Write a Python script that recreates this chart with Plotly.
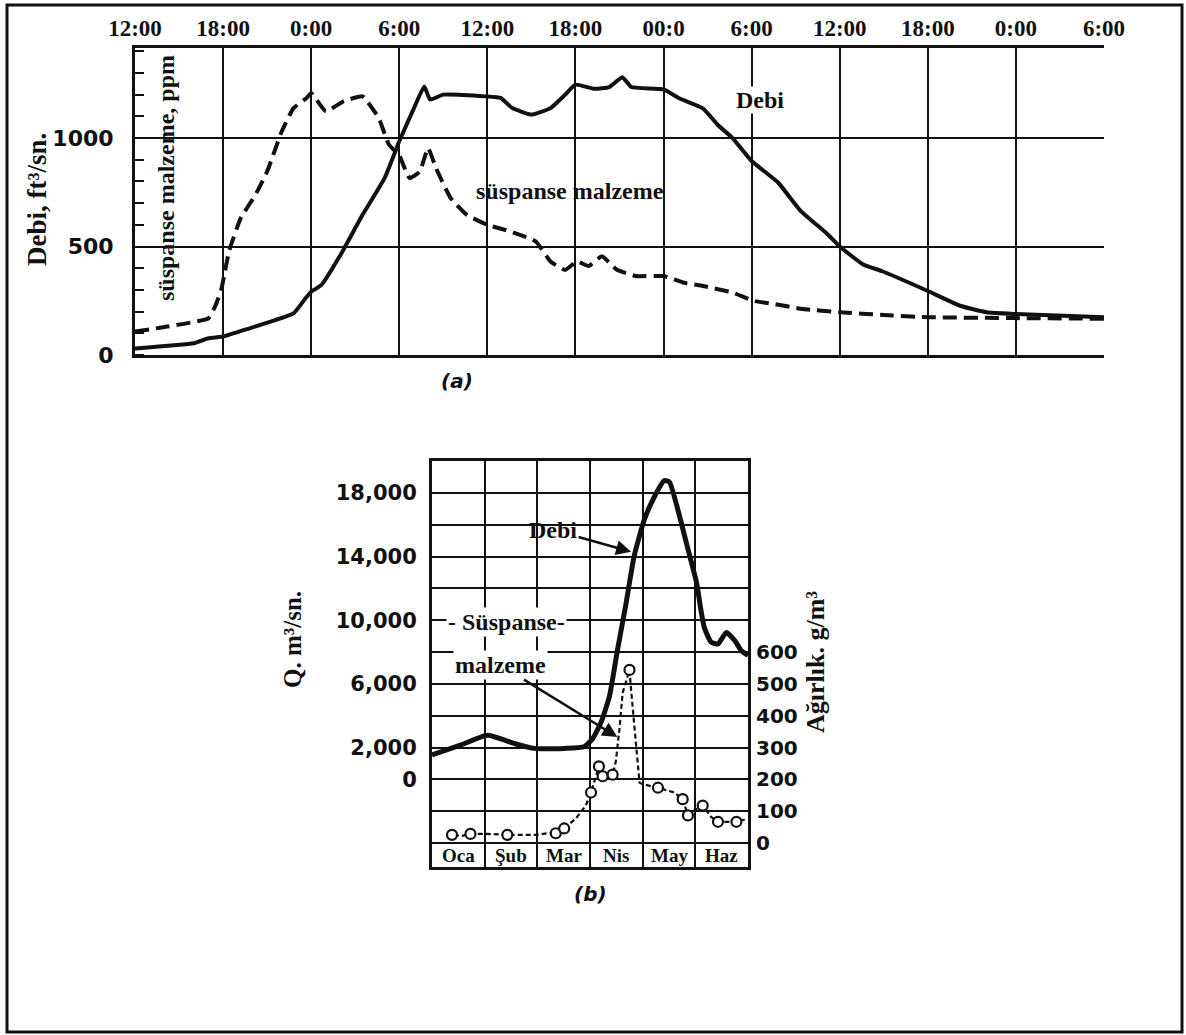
import plotly.graph_objects as go

# ---------------- (a) hydrograph, hours from 12:00 of day 1 ----------------
time_labels = ["12:00", "18:00", "0:00", "6:00", "12:00", "18:00", "00:0",
               "6:00", "12:00", "18:00", "0:00", "6:00"]
time_ticks_h = [0, 6, 12, 18, 24, 30, 36, 42, 48, 54, 60, 66]

hours_debi = [0, 4, 5, 6, 7.8, 9.5, 10.8, 11.6, 12, 12.7, 14, 15.5, 17, 18, 19,
              19.7, 20.1, 21, 23.9, 24.9, 25.7, 27, 28.3, 29.3, 30, 31.3, 32.3,
              33.2, 33.8, 36, 37.1, 38.7, 39.7, 40.7, 42, 43.8, 45.3, 47.1, 48,
              49.6, 50.9, 54, 56.2, 58, 60, 66]
debi_cfs = [30, 54, 77, 85, 123, 160, 192, 260, 292, 323, 462, 646, 815, 985,
            1138, 1238, 1177, 1200, 1192, 1185, 1138, 1108, 1138, 1200, 1246,
            1227, 1235, 1280, 1235, 1224, 1182, 1136, 1060, 1000, 894, 795, 667,
            561, 500, 417, 386, 295, 227, 197, 189, 174]

hours_sed = [0, 2.2, 5, 5.5, 5.9, 6.4, 7.2, 8.2, 9, 10, 10.8, 11.7, 12, 13,
             14.2, 15.5, 16.6, 17.3, 18, 18.7, 19.4, 19.96, 20.5, 21.5, 22.6,
             24, 25.6, 27.3, 28.3, 29.3, 30.1, 30.9, 31.8, 32.8, 34.1, 36, 37.4,
             38.7, 40.7, 42.1, 43.5, 45.5, 48, 51.6, 54.1, 60, 66]
sed_ppm = [108, 131, 169, 231, 308, 477, 631, 738, 846, 1031, 1138, 1185, 1208,
           1123, 1169, 1192, 1092, 969, 920, 815, 846, 954, 862, 723, 646, 600,
           569, 523, 431, 392, 431, 410, 455, 394, 364, 364, 333, 318, 288, 250,
           235, 212, 197, 182, 174, 170, 167]

# ---------------- (b) monthly, months from start of Ocak ----------------
months = ["Oca", "Şub", "Mar", "Nis", "May", "Haz"]

month_q = [0, 0.54, 1.05, 1.56, 1.94, 2.51, 2.89, 3.05, 3.21, 3.37, 3.52, 3.68,
           3.84, 4.03, 4.22, 4.41, 4.51, 4.67, 4.86, 5.02, 5.11, 5.17, 5.30,
           5.43, 5.59, 5.75, 5.87, 6.0]
q_m3s = [1540, 2150, 2770, 2260, 1950, 1950, 2050, 2560, 3590, 5230, 8100,
         10970, 14050, 16300, 17740, 18770, 18670, 16920, 14460, 12410, 10560,
         9540, 8620, 8510, 9230, 8720, 8100, 7790]

month_s = [0.27, 0.38, 0.57, 0.73, 1.05, 1.43, 2.0, 2.19, 2.35, 2.51, 2.73, 2.92,
           3.02, 3.11, 3.17, 3.24, 3.43, 3.49, 3.56, 3.62, 3.75, 3.78, 3.84,
           3.94, 4.0, 4.29, 4.60, 4.76, 4.86, 4.98, 5.14, 5.30, 5.43, 5.59,
           5.78, 5.94]
sed_gm3 = [21, 26, 23, 29, 29, 26, 26, 31, 31, 46, 77, 118, 159, 205, 241, 210,
           215, 256, 359, 472, 544, 482, 369, 190, 185, 174, 159, 138, 87, 103,
           118, 82, 67, 67, 67, 74]

month_pts = [0.38, 0.73, 1.43, 2.35, 2.51, 3.02, 3.17, 3.24, 3.43, 3.75, 4.29,
             4.76, 4.86, 5.14, 5.43, 5.78]
sed_pts = [26, 29, 26, 31, 46, 159, 241, 210, 215, 544, 174, 138, 87, 118, 67, 67]

q_ticks = list(range(-4000, 18001, 2000))
q_labels = {18000: "18,000", 14000: "14,000", 10000: "10,000", 6000: "6,000",
            2000: "2,000", 0: "0"}
w_ticks = [0, 100, 200, 300, 400, 500, 600]

W, H = 1186, 1035
def px(x):
    return x / W
def py(y):
    return 1 - y / H

INK = "#111111"
SERIF = "Liberation Serif"
ROUND = "DejaVu Sans"

fig = go.Figure()

fig.add_trace(go.Scatter(x=hours_sed, y=sed_ppm, mode="lines", xaxis="x", yaxis="y",
                         line=dict(color=INK, width=4, dash="14px,7px", shape="spline",
                                   smoothing=0.4),
                         showlegend=False, hoverinfo="skip"))
fig.add_trace(go.Scatter(x=hours_debi, y=debi_cfs, mode="lines", xaxis="x", yaxis="y",
                         line=dict(color=INK, width=4, shape="spline", smoothing=0.4),
                         showlegend=False, hoverinfo="skip"))

fig.add_trace(go.Scatter(x=month_q, y=q_m3s, mode="lines", xaxis="x2", yaxis="y2",
                         line=dict(color=INK, width=5, shape="spline", smoothing=0.5),
                         showlegend=False, hoverinfo="skip"))
fig.add_trace(go.Scatter(x=month_s, y=sed_gm3, mode="lines", xaxis="x2", yaxis="y4",
                         line=dict(color=INK, width=2.2, dash="5px,3px"),
                         showlegend=False, hoverinfo="skip"))
fig.add_trace(go.Scatter(x=month_pts, y=sed_pts, mode="markers", xaxis="x2", yaxis="y4",
                         marker=dict(symbol="circle", size=10, color="white",
                                     line=dict(color=INK, width=2.2)),
                         showlegend=False, hoverinfo="skip"))

top_dom_x = [px(135), px(1104)]
top_dom_y = [py(355), py(48)]
bot_dom_x = [px(432), px(748)]
bot_dom_y = [py(867), py(461)]

TICKSERIF = dict(family=SERIF, size=23, color=INK, weight="bold")
fig.update_layout(
    template="none",
    width=W, height=H,
    margin=dict(l=0, r=0, t=0, b=0, pad=0),
    paper_bgcolor="white", plot_bgcolor="white",
    xaxis=dict(domain=top_dom_x, range=[0, 66], side="top", automargin=False,
               tickvals=time_ticks_h, ticktext=time_labels, ticks="",
               tickfont=TICKSERIF,
               showgrid=True, gridcolor=INK, gridwidth=2.2,
               showline=True, linecolor=INK, linewidth=3, mirror=True,
               zeroline=False, ticklabelstandoff=0, anchor="y"),
    yaxis=dict(domain=top_dom_y, range=[0, 1415], tickvals=[0, 500, 1000],
               ticktext=["0", "500", "1000"], ticks="", automargin=False,
               tickfont=dict(family=ROUND, size=22, color=INK, weight="bold"),
               showgrid=True, gridcolor=INK, gridwidth=2.2,
               showline=True, linecolor=INK, linewidth=3, zeroline=False,
               ticklabelstandoff=14, anchor="x",
               minor=dict(tickvals=list(range(0, 1401, 100)), ticks="inside",
                          ticklen=9, tickwidth=2.2, tickcolor=INK, showgrid=False)),
    yaxis3=dict(overlaying="y", side="right", range=[0, 1415], anchor="x",
                automargin=False,
                tickvals=list(range(0, 1401, 100)), ticks="inside", ticklen=9,
                tickwidth=2.2, tickcolor=INK, showticklabels=False,
                showgrid=False, showline=True, linecolor=INK, linewidth=3,
                zeroline=False),
    xaxis2=dict(domain=bot_dom_x, range=[0, 6], tickvals=list(range(0, 7)),
                automargin=False,
                showticklabels=False, ticks="", showgrid=True, gridcolor=INK,
                gridwidth=2.2, showline=True, linecolor=INK, linewidth=3,
                mirror=True, zeroline=False, anchor="y2"),
    yaxis2=dict(domain=bot_dom_y, range=[-5500, 20000], tickvals=q_ticks,
                automargin=False,
                ticktext=[q_labels.get(v, "") for v in q_ticks], ticks="",
                tickfont=dict(family=ROUND, size=21, color=INK, weight="bold"),
                showgrid=True, gridcolor=INK, gridwidth=2.2,
                showline=True, linecolor=INK, linewidth=3, zeroline=False,
                ticklabelstandoff=8, anchor="x2"),
    yaxis4=dict(overlaying="y2", side="right", range=[-75, 1200], anchor="x2",
                automargin=False,
                tickvals=w_ticks, ticktext=[str(v) for v in w_ticks], ticks="",
                tickfont=dict(family=ROUND, size=20, color=INK, weight="bold"),
                showgrid=False, showline=True, linecolor=INK, linewidth=3,
                zeroline=False, ticklabelstandoff=1),
)

def big(size=24):
    return dict(family=SERIF, size=size, color=INK, weight="bold")

def ptext(text, x, y, size=24, angle=0, family=SERIF, bg=None):
    d = dict(text=text, x=px(x), y=py(y), xref="paper", yref="paper",
             xanchor="center", yanchor="middle", textangle=angle, showarrow=False,
             font=dict(family=family, size=size, color=INK, weight="bold"))
    if bg:
        d["bgcolor"] = bg
    return d

ann = []
# axis titles
ann.append(ptext("Debi, ft³/sn.", 37, 200, size=27, angle=-90))
ann.append(ptext("süspanse malzeme, ppm", 166, 178, size=24, angle=-90))
ann.append(ptext("Q. m³/sn.", 292, 640, size=25, angle=-90))
ann.append(ptext("Ağırlık. g/m³", 815, 662, size=26, angle=-90))
ann.append(ptext("<i>(a)</i>", 457, 381, size=20, family=ROUND))
ann.append(ptext("<i>(b)</i>", 590, 894, size=20, family=ROUND))
# series labels (a)
ann.append(dict(text="Debi", x=42.6, y=1175, xref="x", yref="y", showarrow=False,
                bgcolor="white", borderpad=0, font=big()))
ann.append(dict(text="süspanse malzeme", x=29.6, y=758, xref="x", yref="y",
                showarrow=False, font=big()))
# series labels (b)
ann.append(dict(text="Debi", x=3.78, y=14300, xref="x2", yref="y2", ax=-78, ay=-22,
                showarrow=True, arrowhead=2, arrowsize=1.2, arrowwidth=2.5,
                arrowcolor=INK, font=big()))
ann.append(ptext("- Süspanse-", 506, 622, size=24, bg="white"))
ann.append(dict(text="malzeme", x=3.52, y=333, xref="x2", yref="y4", ax=-117, ay=-72,
                showarrow=True, arrowhead=2, arrowsize=1.2, arrowwidth=2.5,
                arrowcolor=INK, bgcolor="white", font=big()))
for i, m in enumerate(months):
    ann.append(dict(text=m, x=i + 0.5, y=-4780, xref="x2", yref="y2", showarrow=False,
                    font=dict(family=SERIF, size=19, color=INK, weight="bold")))
fig.update_layout(annotations=ann)

fig.add_shape(type="rect", xref="paper", yref="paper", x0=px(7), x1=px(1182),
              y0=py(1032), y1=py(5), line=dict(color=INK, width=3), layer="below")

fig.write_html("out.html")
